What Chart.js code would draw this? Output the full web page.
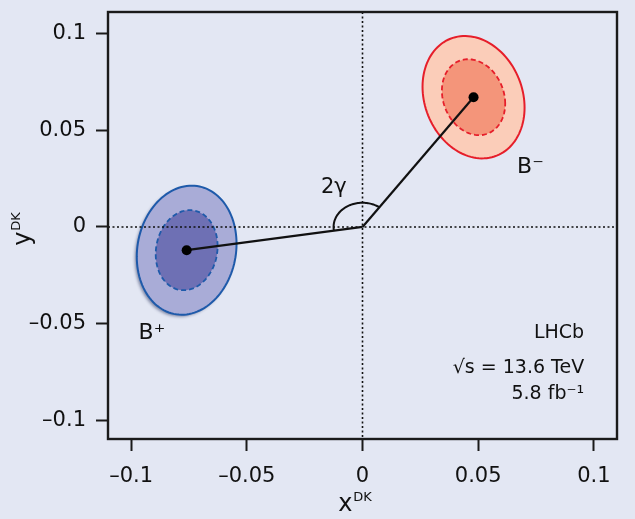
<!DOCTYPE html>
<html>
<head>
<meta charset="utf-8">
<script src="https://cdn.jsdelivr.net/npm/chart.js@4"></script>
<style>
  html, body { margin: 0; padding: 0; background: #e3e7f3; }
  #wrap { width: 635px; height: 519px; }
</style>
</head>
<body>
<div id="wrap"><canvas id="cpChart"></canvas></div>
<script>
// ========================
// DATA
// ========================

const names = ['B⁺', 'B⁻'];
const centerX = [-0.076, 0.048];
const centerY = [-0.012, 0.067];
const sigmaX = [0.0088, 0.0090];
const sigmaY = [0.0136, 0.0129];
const rho = [0.10, -0.17];
const levels = [1.52, 2.45];   // 68% and 95% contours

const xTicks = [-0.1, -0.05, 0, 0.05, 0.1];
const yTicks = [-0.1, -0.05, 0, 0.05, 0.1];
const tickLabels = ['–0.1', '–0.05', '0', '0.05', '0.1'];

const arcRadius = 0.0125;

// ========================
// STYLE
// ========================

const FONT = "'DejaVu Sans', sans-serif";
const edgeColors = ['#1e5aaa', '#e61e2a'];
const outerFill = ['#a9acd7', '#fbcdb9'];
const innerFill = ['#6e70b4', '#f4957a'];

function ellipsePath(ctx, x, y, i, k) {
  ctx.beginPath();
  for (let s = 0; s <= 120; s++) {
    const t = s / 120 * 2 * Math.PI;
    const dx = k * sigmaX[i] * Math.cos(t);
    const dy = k * sigmaY[i] * (rho[i] * Math.cos(t) + Math.sqrt(1 - rho[i] * rho[i]) * Math.sin(t));
    const px = x.getPixelForValue(centerX[i] + dx);
    const py = y.getPixelForValue(centerY[i] + dy);
    if (s === 0) ctx.moveTo(px, py); else ctx.lineTo(px, py);
  }
  ctx.closePath();
}

function supText(ctx, main, sup, px, py, size, supSize, align) {
  ctx.font = size + 'px ' + FONT;
  const w1 = ctx.measureText(main).width;
  ctx.font = supSize + 'px ' + FONT;
  const w2 = ctx.measureText(sup).width;
  let start = px;
  if (align === 'center') start = px - (w1 + w2) / 2;
  if (align === 'right') start = px - (w1 + w2);
  ctx.textAlign = 'left';
  ctx.textBaseline = 'alphabetic';
  ctx.font = size + 'px ' + FONT;
  ctx.fillText(main, start, py);
  ctx.font = supSize + 'px ' + FONT;
  ctx.fillText(sup, start + w1 + 1, py - size * 0.42);
}

const lhcbPlugin = {
  id: 'lhcb',
  beforeDatasetsDraw(chart) {
    const { ctx, chartArea: a, scales: { x, y } } = chart;
    ctx.save();

    // ellipses
    for (let i = 0; i < centerX.length; i++) {
      ctx.save();
      if (i === 0) {
        ctx.shadowColor = 'rgba(20, 30, 80, 0.45)';
        ctx.shadowBlur = 3;
        ctx.shadowOffsetX = -2;
        ctx.shadowOffsetY = 2;
      }
      ellipsePath(ctx, x, y, i, levels[1]);
      ctx.fillStyle = outerFill[i];
      ctx.fill();
      ctx.restore();
      ellipsePath(ctx, x, y, i, levels[1]);
      ctx.strokeStyle = edgeColors[i];
      ctx.lineWidth = 2;
      ctx.stroke();

      ellipsePath(ctx, x, y, i, levels[0]);
      ctx.fillStyle = innerFill[i];
      ctx.fill();
      ctx.setLineDash([5, 3]);
      ctx.lineWidth = 1.8;
      ctx.stroke();
      ctx.setLineDash([]);
    }

    // dotted zero lines
    ctx.strokeStyle = '#111';
    ctx.lineWidth = 1.6;
    ctx.setLineDash([2, 2.5]);
    const x0 = x.getPixelForValue(0), y0 = y.getPixelForValue(0);
    ctx.beginPath();
    ctx.moveTo(x0, a.top); ctx.lineTo(x0, a.bottom);
    ctx.moveTo(a.left, y0); ctx.lineTo(a.right, y0);
    ctx.stroke();
    ctx.setLineDash([]);

    // 2 gamma arc
    const a1 = Math.atan2(centerY[1], centerX[1]);
    let a2 = Math.atan2(centerY[0], centerX[0]);
    if (a2 < a1) a2 += 2 * Math.PI;
    ctx.beginPath();
    for (let s = 0; s <= 60; s++) {
      const ang = a1 + (a2 - a1) * s / 60;
      const px = x.getPixelForValue(arcRadius * Math.cos(ang));
      const py = y.getPixelForValue(arcRadius * Math.sin(ang));
      if (s === 0) ctx.moveTo(px, py); else ctx.lineTo(px, py);
    }
    ctx.lineWidth = 2;
    ctx.stroke();
    ctx.restore();
  },
  afterDraw(chart) {
    const { ctx, chartArea: a, scales: { x, y } } = chart;
    ctx.save();
    // frame
    ctx.strokeStyle = '#1a1a1a';
    ctx.lineWidth = 2.4;
    ctx.strokeRect(a.left, a.top, a.right - a.left, a.bottom - a.top);

    ctx.fillStyle = '#111';
    // labels
    ctx.textBaseline = 'alphabetic';
    ctx.textAlign = 'center';
    ctx.font = '21px ' + FONT;
    ctx.fillText('2γ', x.getPixelForValue(-0.0124), y.getPixelForValue(0.0175));

    ctx.textAlign = 'left';
    ctx.font = '22px ' + FONT;
    ctx.fillText(names[0], x.getPixelForValue(-0.0968), y.getPixelForValue(-0.0577));
    ctx.fillText(names[1], x.getPixelForValue(0.0668), y.getPixelForValue(0.0278));

    ctx.textAlign = 'right';
    ctx.font = '19px ' + FONT;
    const rx = x.getPixelForValue(0.0958);
    ctx.fillText('LHCb', rx, 338);
    ctx.fillText('√s = 13.6 TeV', rx, 373);
    ctx.fillText('5.8 fb⁻¹', rx, 399);

    // axis titles
    supText(ctx, 'x', 'DK', (a.left + a.right) / 2 - 8, 511, 24, 13, 'center');
    ctx.save();
    ctx.translate(30, (a.top + a.bottom) / 2 + 4);
    ctx.rotate(-Math.PI / 2);
    supText(ctx, 'y', 'DK', 0, 0, 24, 13, 'center');
    ctx.restore();
    ctx.restore();
  }
};

// ========================
// CHART
// ========================

const lineSets = centerX.map((cx, i) => ({
  label: names[i],
  data: [{ x: 0, y: 0 }, { x: cx, y: centerY[i] }],
  showLine: true,
  borderColor: '#111',
  borderWidth: 2.2,
  pointRadius: [0, 5],
  pointBackgroundColor: '#000',
  pointBorderWidth: 0
}));

const axisBase = (ticks, pad) => ({
  type: 'linear',
  afterBuildTicks: (scale) => { scale.ticks = ticks.map(v => ({ value: v })); },
  ticks: {
    callback: (v, i) => tickLabels[i],
    color: '#111',
    font: { family: FONT, size: 21 },
    padding: pad,
    autoSkip: false,
    maxRotation: 0
  },
  grid: {
    display: true,
    drawOnChartArea: false,
    drawTicks: true,
    tickLength: 12,
    tickWidth: 2,
    tickColor: '#1a1a1a'
  },
  border: { display: false }
});

// no extra room for label overflow, the area is fixed
const noPad = (s) => {
  s.paddingTop = 0; s.paddingBottom = 0;
  s.paddingLeft = 0; s.paddingRight = 0;
};

const ctx = document.getElementById('cpChart');

new Chart(ctx, {
  type: 'scatter',
  data: { datasets: lineSets },
  options: {
    responsive: true,
    maintainAspectRatio: false,
    animation: false,
    events: [],
    layout: { padding: { top: 12, right: 18, left: 0, bottom: 0 } },
    plugins: {
      legend: { display: false },
      tooltip: { enabled: false }
    },
    scales: {
      x: Object.assign(axisBase(xTicks, 13), {
        min: -0.11, max: 0.11,
        afterFit: (s) => { s.height = 80; noPad(s); }
      }),
      y: Object.assign(axisBase(yTicks, 10), {
        min: -0.1095, max: 0.111,
        afterFit: (s) => { s.width = 108; noPad(s); }
      })
    }
  },
  plugins: [lhcbPlugin]
});
</script>
</body>
</html>
